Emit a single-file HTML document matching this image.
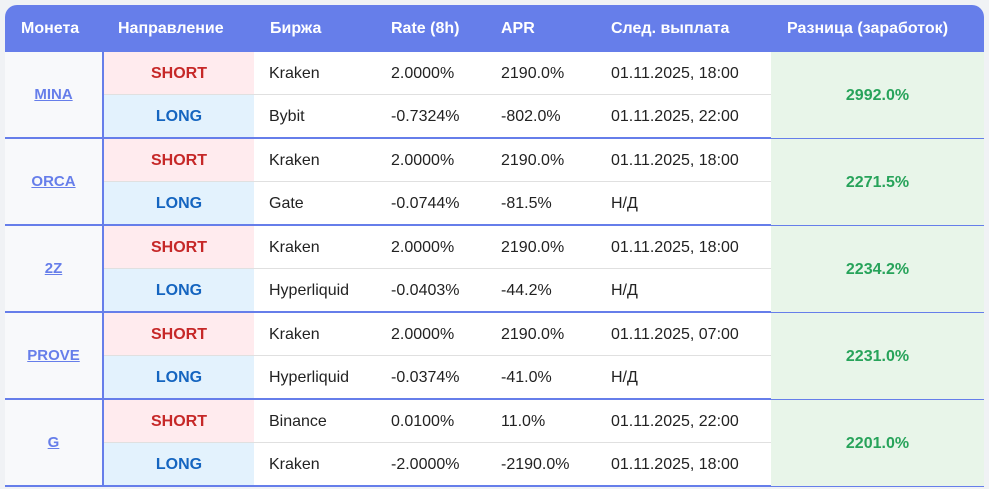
<!DOCTYPE html>
<html><head><meta charset="utf-8"><style>
*{margin:0;padding:0;box-sizing:content-box}
body{width:989px;height:489px;background:#f0f2f5;font-family:"Liberation Sans",Arial,sans-serif;font-size:16px;color:#222;position:relative;overflow:hidden}
.hd{position:absolute;left:5px;top:5px;width:979px;height:47px;background:#667eea;border-radius:12px 12px 0 0;color:#fff;font-weight:bold;font-size:16px}
.hd span{position:absolute;top:15px}
.g{position:absolute;left:5px;width:979px;height:85px;border-bottom:2px solid #667eea;background:#fff}
.coin{position:absolute;left:0;top:0;width:97px;height:85px;border-right:2px solid #667eea;background:#f8f9fb;display:flex;align-items:center;justify-content:center}
.coin a{color:#667eea;font-weight:bold;font-size:15px;text-decoration:underline}
.r{position:absolute;left:99px;width:667px;height:42px;display:flex;align-items:stretch}
.r1{top:0;border-bottom:1px solid #e0e0e0}
.r2{top:43px}
.r div{display:flex;align-items:center;padding-left:15px;padding-top:1px}
.d{width:150px;padding-left:0!important;justify-content:center;font-weight:bold}
.s{background:#ffebee;color:#c62828}
.l{background:#e3f2fd;color:#1565c0}
.e{width:107px}.t{width:95px}.a{width:95px}.n{width:160px}
.diff{position:absolute;left:766px;top:0;width:213px;height:85px;background:#e8f5e9;display:flex;align-items:center;justify-content:center;color:#27a35a;font-weight:bold;font-size:16px;padding-top:1px}
</style></head><body>
<div class="hd"><span style="left:16px">Монета</span><span style="left:113px">Направление</span><span style="left:265px">Биржа</span><span style="left:386px">Rate (8h)</span><span style="left:496px">APR</span><span style="left:606px">След. выплата</span><span style="left:782px">Разница (заработок)</span></div>

<div class="g" style="top:52px"><div class="coin"><a>MINA</a></div>
<div class="r r1"><div class="d s">SHORT</div><div class="e">Kraken</div><div class="t">2.0000%</div><div class="a">2190.0%</div><div class="n">01.11.2025, 18:00</div></div>
<div class="r r2"><div class="d l">LONG</div><div class="e">Bybit</div><div class="t">-0.7324%</div><div class="a">-802.0%</div><div class="n">01.11.2025, 22:00</div></div>
<div class="diff">2992.0%</div></div>

<div class="g" style="top:139px"><div class="coin"><a>ORCA</a></div>
<div class="r r1"><div class="d s">SHORT</div><div class="e">Kraken</div><div class="t">2.0000%</div><div class="a">2190.0%</div><div class="n">01.11.2025, 18:00</div></div>
<div class="r r2"><div class="d l">LONG</div><div class="e">Gate</div><div class="t">-0.0744%</div><div class="a">-81.5%</div><div class="n">Н/Д</div></div>
<div class="diff">2271.5%</div></div>

<div class="g" style="top:226px"><div class="coin"><a>2Z</a></div>
<div class="r r1"><div class="d s">SHORT</div><div class="e">Kraken</div><div class="t">2.0000%</div><div class="a">2190.0%</div><div class="n">01.11.2025, 18:00</div></div>
<div class="r r2"><div class="d l">LONG</div><div class="e">Hyperliquid</div><div class="t">-0.0403%</div><div class="a">-44.2%</div><div class="n">Н/Д</div></div>
<div class="diff">2234.2%</div></div>

<div class="g" style="top:313px"><div class="coin"><a>PROVE</a></div>
<div class="r r1"><div class="d s">SHORT</div><div class="e">Kraken</div><div class="t">2.0000%</div><div class="a">2190.0%</div><div class="n">01.11.2025, 07:00</div></div>
<div class="r r2"><div class="d l">LONG</div><div class="e">Hyperliquid</div><div class="t">-0.0374%</div><div class="a">-41.0%</div><div class="n">Н/Д</div></div>
<div class="diff">2231.0%</div></div>

<div class="g" style="top:400px"><div class="coin"><a>G</a></div>
<div class="r r1"><div class="d s">SHORT</div><div class="e">Binance</div><div class="t">0.0100%</div><div class="a">11.0%</div><div class="n">01.11.2025, 22:00</div></div>
<div class="r r2"><div class="d l">LONG</div><div class="e">Kraken</div><div class="t">-2.0000%</div><div class="a">-2190.0%</div><div class="n">01.11.2025, 18:00</div></div>
<div class="diff">2201.0%</div></div>
</body></html>
